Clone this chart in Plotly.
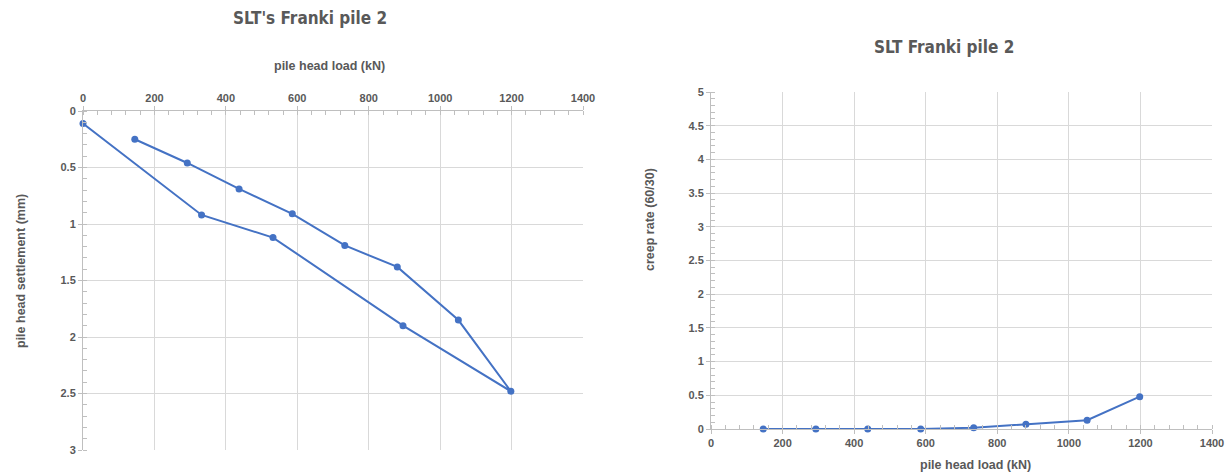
import plotly.graph_objects as go

# Left chart: load-settlement (loading then unloading)
load_settle = [145, 292, 437, 586, 733, 880, 1051, 1198, 896, 532, 332, 0]
settlement = [0.25, 0.46, 0.69, 0.91, 1.19, 1.38, 1.85, 2.48, 1.90, 1.12, 0.92, 0.11]

# Right chart: creep rate
load_creep = [146, 293, 438, 586, 734, 880, 1051, 1198]
creep_rate = [0.0, 0.0, 0.0, 0.0, 0.02, 0.07, 0.13, 0.48]

x_ticks = [0, 200, 400, 600, 800, 1000, 1200, 1400]

W, H = 1229, 474
BLUE = "#4472C4"
GRID = "#d9d9d9"
AX = "#bfbfbf"
TXT = "#595959"
FONT = "Liberation Sans"
TITLE_FONT = "Liberation Sans Narrow, DejaVu Sans Condensed, Liberation Sans"

def px_x(p):
    return p / W

def px_y(p):
    return 1 - p / H

fig = go.Figure()
fig.add_trace(go.Scatter(x=load_settle, y=settlement, mode="lines+markers",
                         line=dict(color=BLUE, width=2), marker=dict(color=BLUE, size=7),
                         xaxis="x", yaxis="y", showlegend=False, cliponaxis=False))
fig.add_trace(go.Scatter(x=load_creep, y=creep_rate, mode="lines+markers",
                         line=dict(color=BLUE, width=2), marker=dict(color=BLUE, size=7),
                         xaxis="x2", yaxis="y2", showlegend=False, cliponaxis=False))

tickfont = dict(family=FONT, size=11, color=TXT, weight="bold")
common = dict(showgrid=True, gridcolor=GRID, gridwidth=1, showline=True, linecolor=AX,
              linewidth=1, ticks="outside", ticklen=4, tickcolor=AX, tickfont=tickfont,
              zeroline=False, fixedrange=True, automargin=False)

fig.update_layout(
    width=W, height=H, autosize=False,
    margin=dict(l=0, r=0, t=0, b=0, pad=0, autoexpand=False),
    paper_bgcolor="white", plot_bgcolor="white",
    xaxis=dict(domain=[px_x(83), px_x(583)], range=[0, 1400], tickvals=x_ticks,
               side="top", anchor="y", mirror=False,
               minor=dict(dtick=40, ticks="inside", ticklen=4, tickcolor=AX, showgrid=False),
               **common),
    yaxis=dict(domain=[px_y(450), px_y(111)], range=[3, 0], dtick=0.5, anchor="x",
               minor=dict(dtick=0.1, ticks="inside", ticklen=4, tickcolor=AX, showgrid=False),
               **common),
    xaxis2=dict(domain=[px_x(711), px_x(1212)], range=[0, 1400], tickvals=x_ticks,
                anchor="y2",
                minor=dict(dtick=40, ticks="inside", ticklen=4, tickcolor=AX, showgrid=False),
                **common),
    yaxis2=dict(domain=[px_y(429), px_y(92)], range=[0, 5], dtick=0.5, anchor="x2",
                minor=dict(dtick=0.1, ticks="inside", ticklen=4, tickcolor=AX, showgrid=False),
                **common),
)

def ann(text, x, y, size, angle=0, family=FONT):
    fig.add_annotation(text=text, x=px_x(x), y=px_y(y), xref="paper", yref="paper",
                       showarrow=False, textangle=angle, xanchor="center", yanchor="middle",
                       font=dict(family=family, size=size, color=TXT))

ann("<b>SLT's Franki pile 2</b>", 310, 18, 17, family=TITLE_FONT)
ann("<b>pile head load (kN)</b>", 329, 66, 12.5)
ann("<b>pile head settlement (mm)</b>", 21, 271, 12.5, -90)

ann("<b>SLT Franki pile 2</b>", 944, 47, 17, family=TITLE_FONT)
ann("<b>pile head load (kN)</b>", 975, 465, 12.5)
ann("<b>creep rate (60/30)</b>", 650, 220, 12.5, -90)

fig.write_html(
    "out.html",
    config={"displayModeBar": False, "staticPlot": True},
    post_script="document.body.style.margin='0';document.body.style.overflow='hidden';",
)
